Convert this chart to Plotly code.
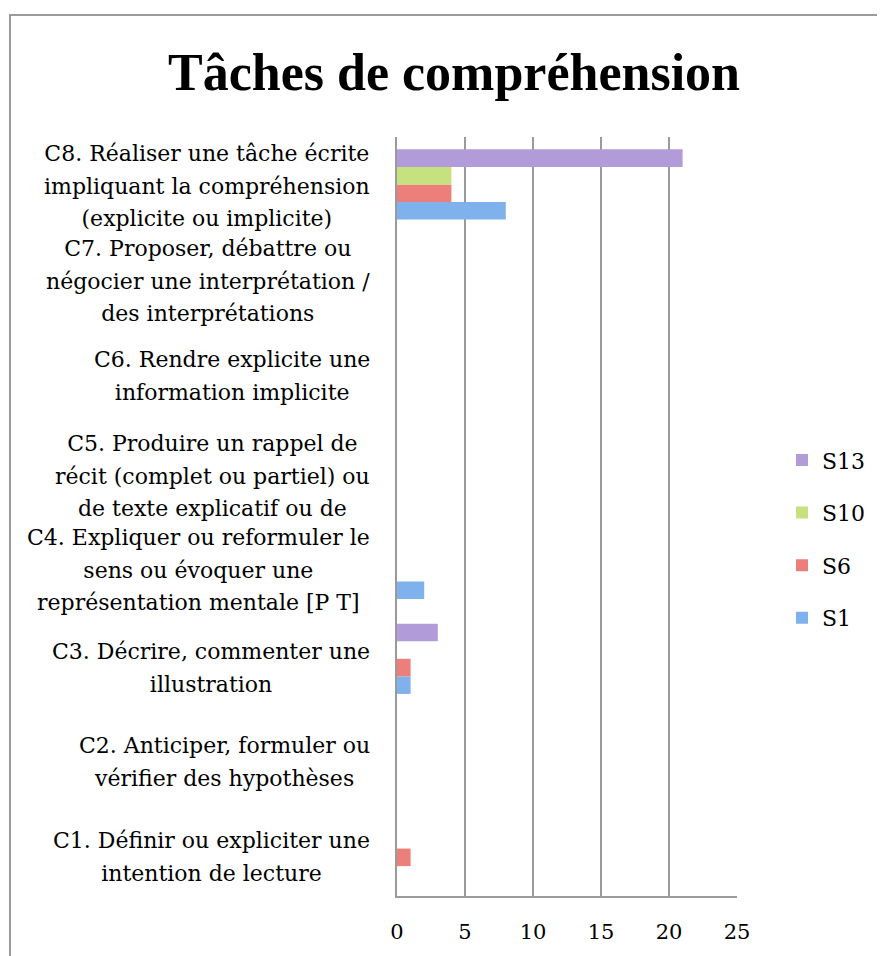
import plotly.graph_objects as go

categories = ["C1", "C2", "C3", "C4", "C5", "C6", "C7", "C8"]
category_labels = [
    "C1. Définir ou expliciter une<br>intention de lecture",
    "C2. Anticiper, formuler ou<br>vérifier des hypothèses",
    "C3. Décrire, commenter une<br>illustration",
    "C4. Expliquer ou reformuler le<br>sens ou évoquer une<br>représentation mentale [P T]",
    "C5. Produire un rappel de<br>récit (complet ou partiel) ou<br>de texte explicatif ou de",
    "C6. Rendre explicite une<br>information implicite",
    "C7. Proposer, débattre ou<br>négocier une interprétation /<br>des interprétations",
    "C8. Réaliser une tâche écrite<br>impliquant la compréhension<br>(explicite ou implicite)",
]
series_names = ["S1", "S6", "S10", "S13"]
S1 = [0, 0, 1, 2, 0, 0, 0, 8]
S6 = [1, 0, 1, 0, 0, 0, 0, 4]
S10 = [0, 0, 0, 0, 0, 0, 0, 4]
S13 = [0, 0, 3, 0, 0, 0, 0, 21]
series_values = [S1, S6, S10, S13]
colors = ["#7fb1ec", "#ec7f7a", "#c6e27f", "#b19bd8"]
x_ticks = [0, 5, 10, 15, 20, 25]

FONT = "DejaVu Serif"
TFONT = "Liberation Serif"

W, H = 877, 948
L, R, T, B = 389, 148, 129, 53
PW = W - L - R
PH = H - T - B

label_shift = {"C1": -8, "C2": -8, "C3": -9, "C4": -6, "C5": -7,
               "C6": -2, "C7": -2, "C8": -2}

fig = go.Figure()
for i, (name, vals) in enumerate(zip(series_names, series_values)):
    fig.add_trace(go.Bar(
        y=categories, x=vals, name=name, orientation="h",
        marker=dict(color=colors[i], line=dict(width=0)),
        legendgroup=name, legendrank=len(series_names) - i,
    ))

annotations = []
for cat, lab in zip(categories, category_labels):
    styled = "<br>".join('<span style="font-size:22px">%s</span>' % ln
                         for ln in lab.split("<br>"))
    annotations.append(dict(
        x=-25 / PW, xref="paper", y=cat, yref="y",
        xanchor="right", yanchor="middle", align="center",
        text=styled, showarrow=False, yshift=label_shift[cat],
        font=dict(family=FONT, size=25, color="#000000"),
    ))

fig.update_layout(
    width=W, height=H,
    margin=dict(l=L, r=R, t=T, b=B),
    paper_bgcolor="white", plot_bgcolor="white",
    barmode="group", bargap=0.26, bargroupgap=0,
    title=dict(text="<b>Tâches de compréhension</b>", x=(454 - 8) / W, xanchor="center",
               y=1 - 64 / H, yanchor="middle",
               font=dict(family=TFONT, size=52, color="#000000")),
    font=dict(family=FONT, size=22, color="#000000"),
    legend=dict(xref="container", x=774 / W, xanchor="left",
                y=(PH - 434 + T) / PH, yanchor="top",
                traceorder="grouped", tracegroupgap=21,
                font=dict(family=FONT, size=22, color="#000000"),
                bgcolor="rgba(0,0,0,0)"),
    annotations=annotations,
    shapes=[dict(type="rect", xref="paper", yref="paper",
                 x0=(2 - L) / PW, x1=2.0, y0=-0.2, y1=(T + PH - 6) / PH,
                 line=dict(color="#9a9a9a", width=2), fillcolor="rgba(0,0,0,0)",
                 layer="below")],
)
fig.update_xaxes(range=[0, 25], tickvals=x_ticks, showgrid=True,
                 gridcolor="#9a9a9a", gridwidth=2, showline=True,
                 linecolor="#9a9a9a", linewidth=2, zeroline=False,
                 ticklabelstandoff=16, tickfont=dict(family=FONT, size=21))
fig.update_yaxes(categoryorder="array", categoryarray=categories,
                 showticklabels=False, showgrid=False, showline=True,
                 linecolor="#9a9a9a", linewidth=2, zeroline=False)

fig.write_html("out.html")
